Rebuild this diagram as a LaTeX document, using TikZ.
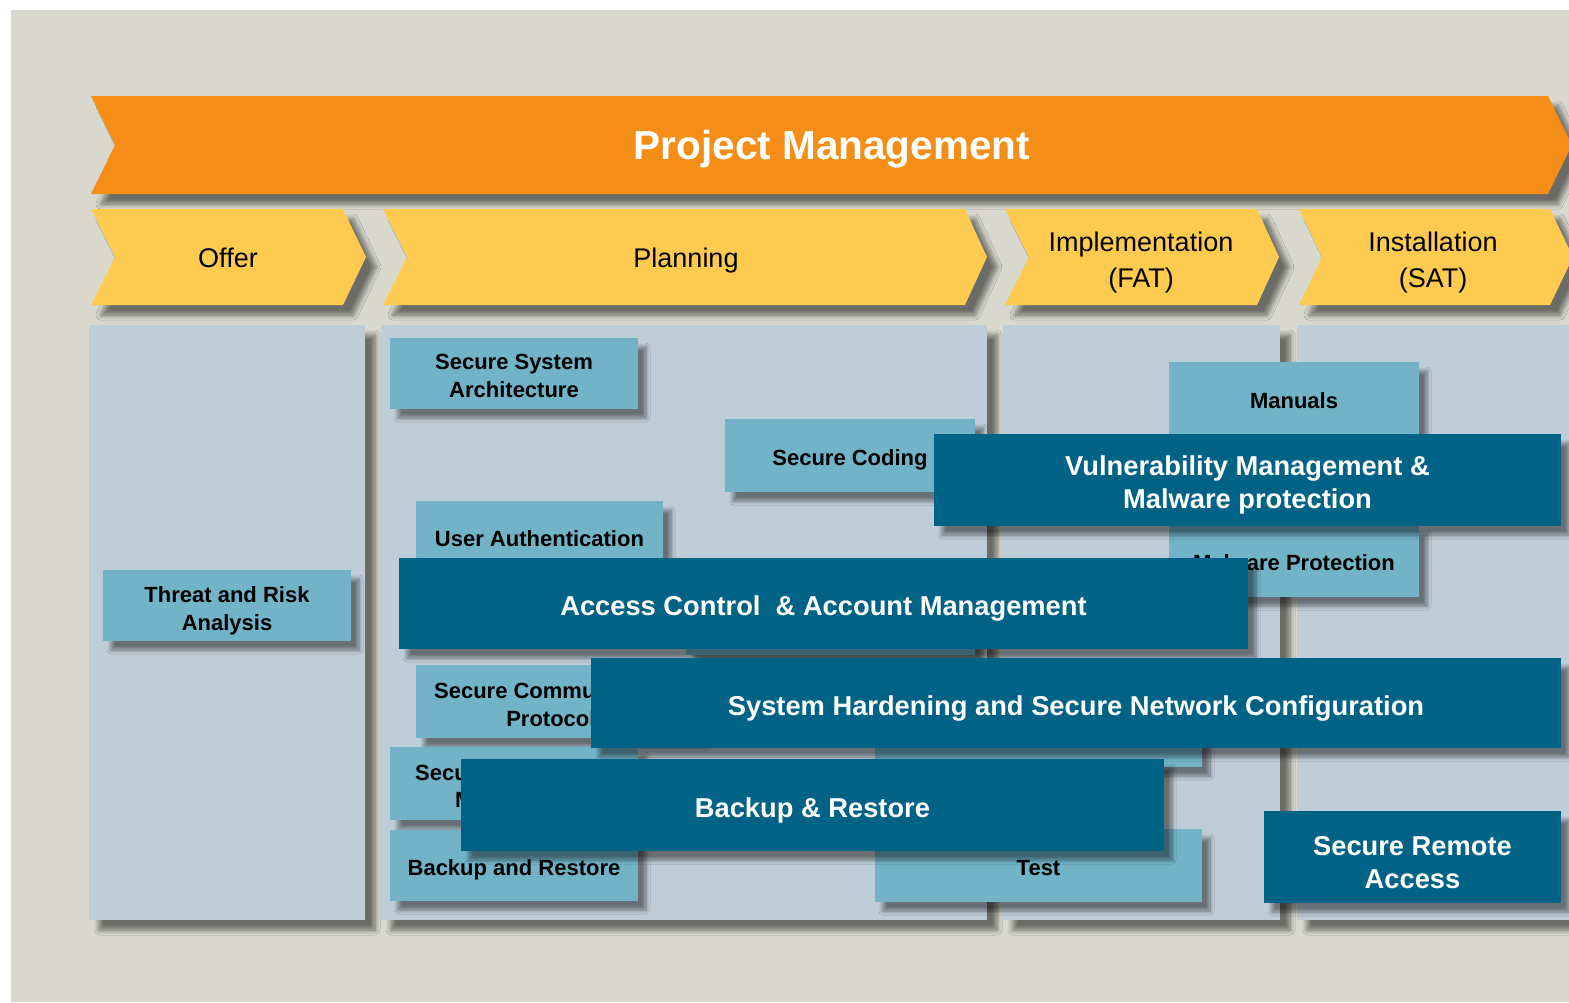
\documentclass[tikz,border=0pt]{standalone}
\usepackage{fontspec}
\setmainfont{Liberation Sans}
\usetikzlibrary{shadows.blur}
\definecolor{bggray}{HTML}{D8D8CF}
\definecolor{colblue}{HTML}{BFCDD8}
\definecolor{pmorange}{HTML}{F48E17}
\definecolor{phyellow}{HTML}{FECB50}
\definecolor{lightbox}{HTML}{72B3C8}
\definecolor{darkbox}{HTML}{006385}
\newcommand{\mkbox}[7]{\node[#1,minimum width={(#5)-(#3)},minimum height={(#6)-(#4)}] (#2) at ({((#3)+(#5))/2},{((#4)+(#6))/2}) {#7};}
\newcommand{\dn}[1]{\rule{0pt}{#1}}
\begin{document}
\begin{tikzpicture}[x=1pt,y=-1pt,
  shd/.style={blur shadow={shadow xshift=8pt,shadow yshift=-9pt,shadow blur radius=4pt,shadow opacity=45,shadow blur steps=8}},
  colshd/.style={blur shadow={shadow xshift=10pt,shadow yshift=-10pt,shadow blur radius=5pt,shadow opacity=50,shadow blur steps=8}},
  column/.style={fill=colblue,colshd},
  chev/.style={fill=phyellow,colshd},
  pmarrow/.style={fill=pmorange,colshd},
  lbox/.style={rectangle,fill=lightbox,shd,inner sep=0pt,outer sep=0pt,align=center,font=\fontsize{22}{28}\selectfont\bfseries,text=black},
  dbox/.style={rectangle,fill=darkbox,shd,inner sep=0pt,outer sep=0pt,align=center,font=\fontsize{27.3}{33}\selectfont\bfseries,text=white},
  lone/.style={text height=20pt,text depth=1pt},
  done/.style={text height=26pt,text depth=1.6pt},
  chevtext/.style={inner sep=0pt,align=center,font=\fontsize{27}{36}\selectfont,text=black},
  cone/.style={text height=22.4pt,text depth=1pt},
  pmtext/.style={inner sep=0pt,font=\fontsize{40.5}{48}\selectfont\bfseries,text=white,text height=29.6pt,text depth=1pt},
  frag/.style={inner sep=0pt,anchor=base west,font=\fontsize{22}{28}\selectfont\bfseries,text=black},
]
\useasboundingbox (0,0) rectangle (1569,1002);
\clip (0,0) rectangle (1569,1002);
\fill[white] (0,0) rectangle (1569,1002);
\fill[bggray] (11,10) rectangle (1600,1002);

% columns
\path[column] (89,325) rectangle (365,920);
\path[column] (381,325) rectangle (987,920);
\path[column] (1003,325) rectangle (1280,920);
\path[column] (1297,325) rectangle (1600,920);

% project management arrow
\path[pmarrow] (91,96) -- (1548,96) -- (1572,145) -- (1548,194) -- (91,194) -- (115,145) -- cycle;
\node[pmtext] (pm) at (832,145) {Project Management};

% phase chevrons
\path[chev] (91,209) -- (343,209) -- (366,257) -- (343,305) -- (91,305) -- (115,257) -- cycle;
\path[chev] (383,209) -- (965,209) -- (987,257) -- (965,305) -- (383,305) -- (407,257) -- cycle;
\path[chev] (1005,209) -- (1257,209) -- (1279,257) -- (1257,305) -- (1005,305) -- (1029,257) -- cycle;
\path[chev] (1299,209) -- (1550,209) -- (1573,257) -- (1550,305) -- (1299,305) -- (1322,257) -- cycle;
\node[chevtext,cone] (offer) at (228,257) {Offer};
\node[chevtext,cone] (planning) at (686,257) {Planning};
\node[chevtext] (impl) at (1141,258) {\dn{28pt}Implementation\\(FAT)};
\node[chevtext] (inst) at (1433,258) {\dn{28pt}Installation\\(SAT)};

% light boxes
\mkbox{lbox}{ssa}{390}{338}{638}{409}{\dn{20pt}Secure System\\Architecture}
\mkbox{lbox,lone}{coding}{725}{419}{975}{492}{Secure Coding}
\mkbox{lbox,lone}{userauth}{416}{501}{663}{573}{User Authentication}
\mkbox{lbox}{threat}{103}{570}{351}{641}{\dn{26pt}Threat and Risk\\Analysis}
\mkbox{lbox,lone}{manuals}{1169}{362}{1419}{435}{Manuals}
\mkbox{lbox,lone}{malware}{1169}{525}{1419}{597}{Malware Protection}
\mkbox{lbox}{hidA}{686}{583}{975}{655}{}
\mkbox{lbox}{comm}{416}{665}{698}{738}{\dn{22pt}Secure Communication\\Protocols}
\mkbox{lbox}{hidB}{875}{695}{1202}{767}{}
\mkbox{lbox}{secu}{390}{747}{638}{820}{}
\node[frag] (secuA) at (415,780) {Secu};
\node[frag] (secuB) at (455,807) {M};
\mkbox{lbox,lone}{backuplight}{390}{830}{638}{901}{Backup and Restore}
\mkbox{lbox,lone}{test}{875}{829}{1202}{902}{Test}

% dark boxes
\mkbox{dbox}{vuln}{934}{434}{1561}{526}{\dn{30pt}Vulnerability Management \&\\Malware protection}
\mkbox{dbox,done}{access}{399}{558}{1248}{649}{Access Control\ \ \& Account Management}
\mkbox{dbox,done}{harden}{591}{658}{1561}{748}{System Hardening and Secure Network Configuration}
\mkbox{dbox,done}{backup}{461}{759}{1164}{851}{Backup \& Restore}
\mkbox{dbox}{remote}{1264}{811}{1561}{903}{\dn{30pt}Secure Remote\\Access}
\end{tikzpicture}
\end{document}
